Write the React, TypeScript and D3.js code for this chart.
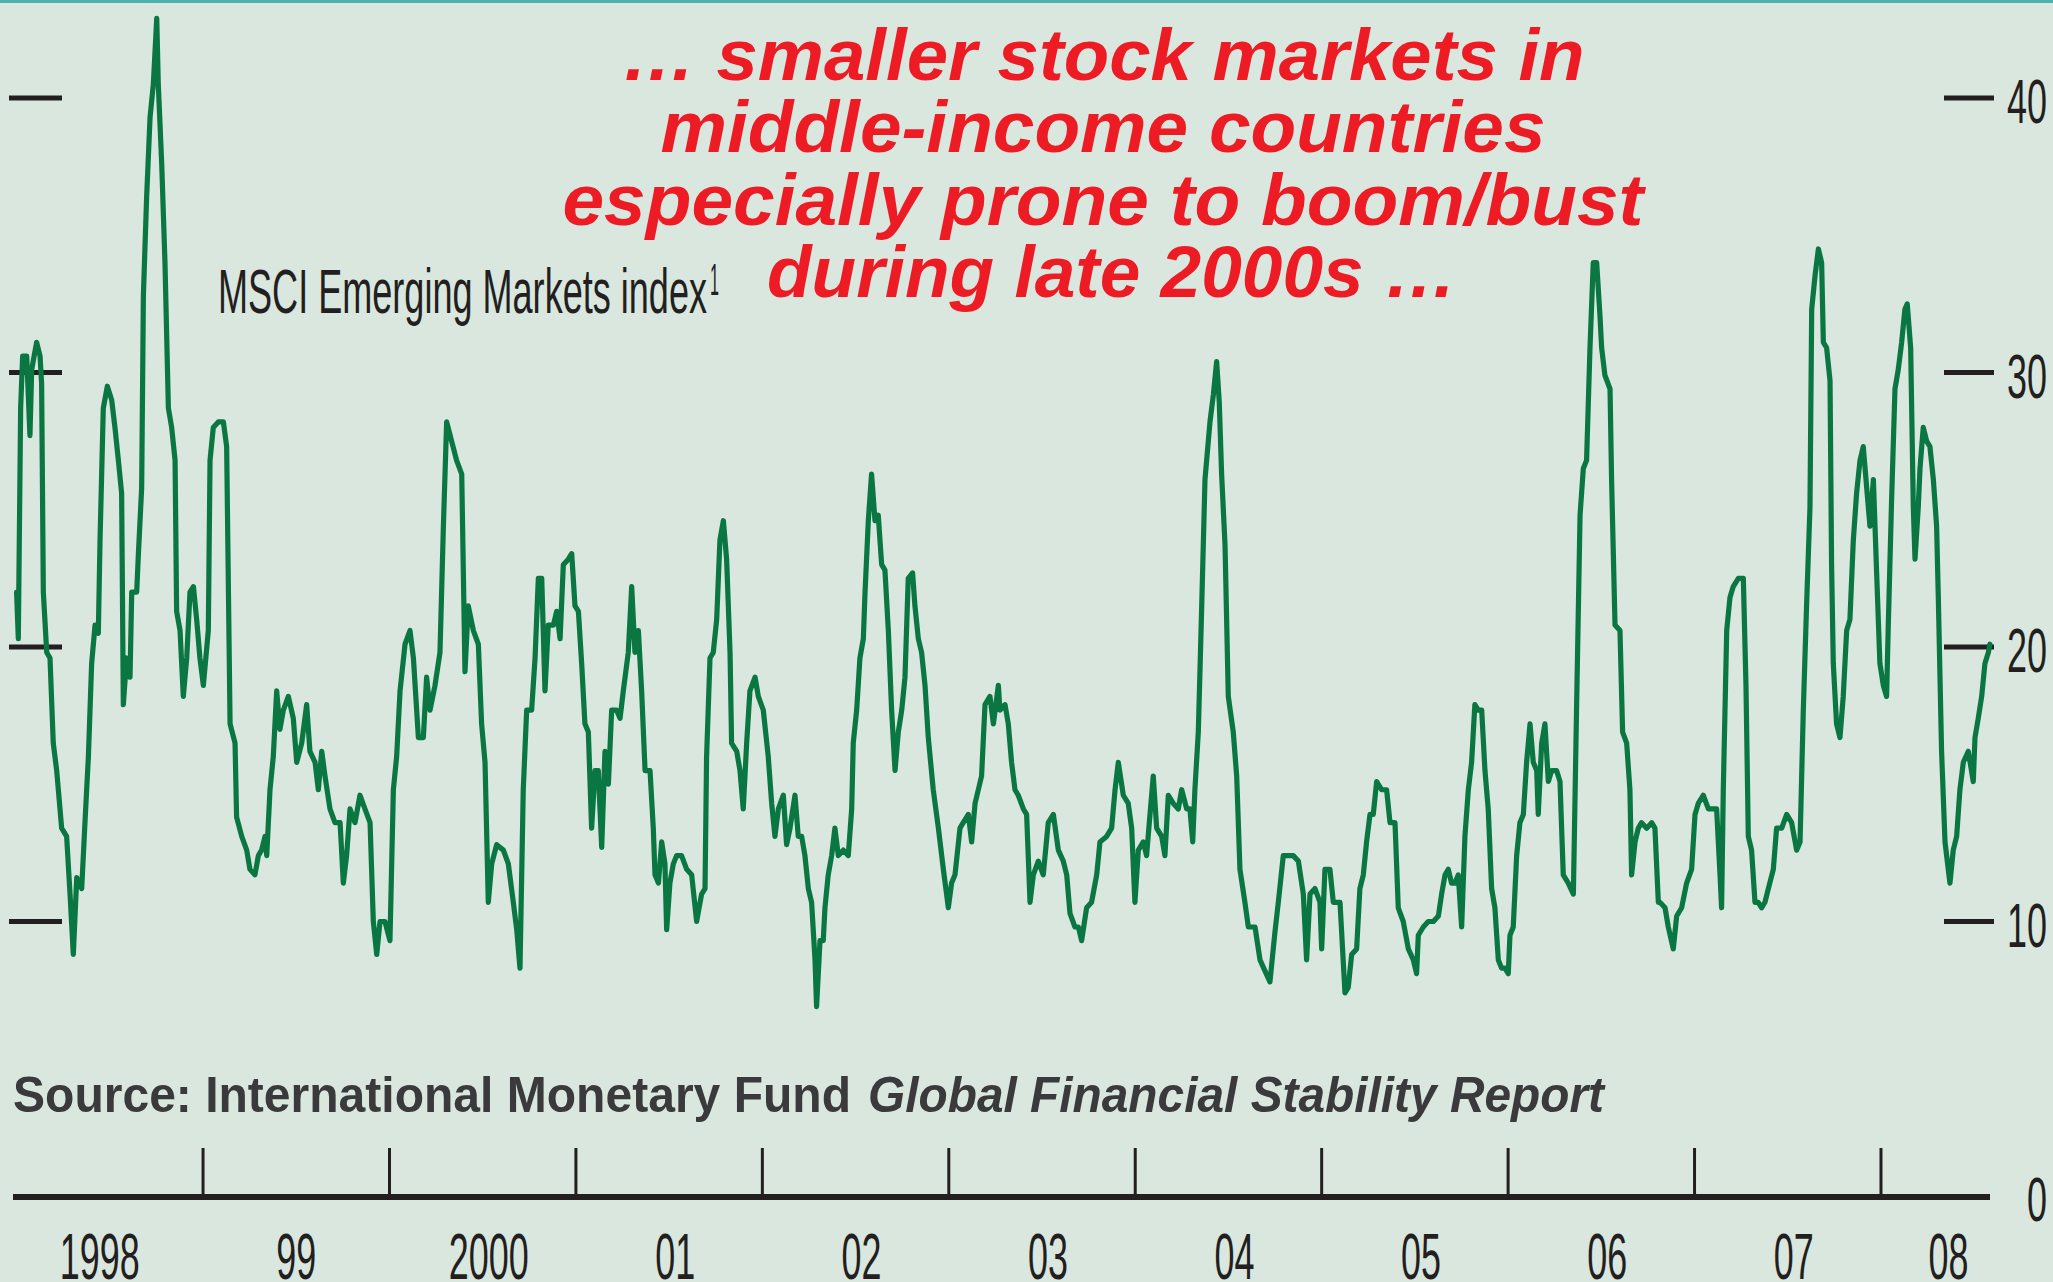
import React from "react";
import * as d3 from "d3";

const W = 2053;
const H = 1282;

// [months since Jan 1998, value]
const seg1998 = [
  [0.0, 22.0], [0.11, 20.3], [0.26, 28.7], [0.39, 30.6], [0.65, 30.6], [0.86, 27.7], [0.97, 30.1], [1.29, 31.1], [1.51, 30.6], [1.61, 29.6], [1.72, 22.0], [1.94, 19.8], [2.15, 19.6], [2.36, 16.5], [2.58, 15.5], [2.9, 13.4], [3.22, 13.1], [3.44, 11.0], [3.65, 8.8], [3.87, 11.6], [4.19, 11.2], [4.4, 13.6], [4.62, 16.0], [4.83, 19.4], [5.05, 20.8], [5.26, 20.5], [5.37, 23.9], [5.58, 28.7], [5.84, 29.5], [6.12, 29.0], [6.33, 28.0], [6.55, 26.8], [6.76, 25.6], [6.87, 17.9], [7.08, 19.6], [7.3, 18.9], [7.41, 22.0], [7.73, 22.0], [7.84, 23.4], [8.05, 25.8], [8.16, 32.8], [8.37, 36.4], [8.59, 39.3], [8.8, 40.5], [9.02, 42.9], [9.12, 40.5], [9.34, 37.6], [9.55, 34.0], [9.77, 28.7], [9.98, 28.0], [10.2, 26.8], [10.3, 21.3], [10.52, 20.6], [10.73, 18.2], [10.95, 19.6], [11.16, 22.0], [11.38, 22.2], [11.59, 21.0], [11.8, 19.6],
];
const seg1999 = [
  [12.02, 18.6], [12.34, 20.6], [12.45, 26.8], [12.66, 28.0], [12.98, 28.2], [13.31, 28.2], [13.52, 27.3], [13.74, 17.2], [14.06, 16.5], [14.16, 13.8], [14.49, 13.1], [14.81, 12.6], [15.02, 11.9], [15.34, 11.7], [15.56, 12.4], [15.77, 12.6], [15.99, 13.1], [16.1, 12.4], [16.31, 14.8], [16.52, 16.0], [16.74, 18.4], [16.95, 17.0], [17.17, 17.7], [17.49, 18.2], [17.81, 17.4], [18.03, 15.8], [18.35, 16.5], [18.67, 17.9], [18.88, 16.2], [19.21, 15.8], [19.42, 14.8], [19.64, 16.2], [19.85, 15.3], [20.17, 14.1], [20.49, 13.6], [20.82, 13.6], [21.03, 11.4], [21.24, 12.4], [21.46, 14.1], [21.78, 13.6], [22.1, 14.6], [22.42, 14.1], [22.75, 13.6], [22.96, 10.0], [23.18, 8.8], [23.39, 10.0], [23.71, 10.0],
];
const seg2000 = [
  [24.03, 9.3], [24.25, 14.8], [24.46, 16.0], [24.68, 18.4], [25.0, 20.1], [25.32, 20.6], [25.54, 19.6], [25.86, 16.7], [26.18, 16.7], [26.39, 18.9], [26.61, 17.7], [26.93, 18.6], [27.25, 19.8], [27.47, 24.4], [27.68, 28.2], [28.0, 27.5], [28.32, 26.8], [28.65, 26.3], [28.86, 19.1], [29.07, 21.5], [29.4, 20.6], [29.72, 20.1], [29.93, 17.2], [30.15, 15.8], [30.36, 10.7], [30.58, 12.1], [30.9, 12.8], [31.33, 12.6], [31.65, 12.1], [31.97, 10.7], [32.19, 9.7], [32.4, 8.3], [32.61, 14.8], [32.83, 17.7], [33.15, 17.7], [33.37, 19.6], [33.58, 22.5], [33.8, 22.5], [34.01, 18.4], [34.22, 20.8], [34.55, 20.8], [34.76, 21.3], [34.98, 20.3], [35.19, 23.0], [35.51, 23.2], [35.73, 23.4], [35.94, 21.5],
];
const seg2001 = [
  [36.16, 21.3], [36.37, 19.4], [36.58, 17.2], [36.8, 16.9], [37.01, 13.4], [37.23, 15.5], [37.44, 15.5], [37.66, 12.7], [37.87, 16.2], [38.09, 15.0], [38.3, 17.7], [38.62, 17.7], [38.84, 17.4], [39.05, 18.4], [39.37, 19.8], [39.59, 22.2], [39.8, 19.8], [40.02, 20.6], [40.23, 18.4], [40.45, 15.5], [40.77, 15.5], [40.98, 13.4], [41.09, 11.7], [41.31, 11.4], [41.52, 12.9], [41.73, 12.1], [41.84, 9.7], [42.05, 11.4], [42.27, 12.1], [42.48, 12.4], [42.8, 12.4], [43.13, 11.9], [43.45, 11.7], [43.77, 10.0], [44.09, 11.0], [44.31, 11.2], [44.41, 16.0], [44.63, 19.6], [44.84, 19.8], [45.06, 21.0], [45.27, 23.9], [45.49, 24.6], [45.7, 23.2], [45.92, 19.8], [46.02, 16.5], [46.35, 16.2], [46.56, 15.5], [46.77, 14.1], [46.99, 16.5], [47.2, 18.4], [47.53, 18.9], [47.74, 18.2],
];
const seg2002 = [
  [48.06, 17.7], [48.38, 16.0], [48.6, 14.3], [48.81, 13.1], [49.03, 14.1], [49.35, 14.6], [49.56, 12.8], [49.78, 13.4], [50.1, 14.6], [50.31, 13.1], [50.53, 13.1], [50.74, 12.4], [50.96, 11.2], [51.17, 10.7], [51.39, 8.6], [51.49, 6.9], [51.71, 9.3], [51.92, 9.3], [52.03, 10.5], [52.24, 11.7], [52.46, 12.4], [52.67, 13.4], [52.89, 12.4], [53.21, 12.6], [53.53, 12.4], [53.75, 14.1], [53.85, 16.5], [54.07, 17.7], [54.28, 19.6], [54.5, 20.3], [54.61, 22.0], [54.82, 24.6], [55.03, 26.3], [55.25, 24.6], [55.46, 24.8], [55.68, 23.0], [55.89, 22.8], [56.11, 20.6], [56.32, 17.7], [56.54, 15.5], [56.75, 16.9], [56.97, 17.7], [57.18, 18.9], [57.39, 22.5], [57.67, 22.7], [57.82, 21.5], [58.04, 20.3], [58.25, 19.8], [58.47, 18.6], [58.68, 16.7], [59.0, 14.8], [59.33, 13.4], [59.65, 11.9],
];
const seg2003 = [
  [59.97, 10.5], [60.18, 11.4], [60.4, 11.7], [60.72, 13.4], [60.93, 13.6], [61.26, 13.9], [61.47, 12.9], [61.69, 14.3], [61.9, 14.8], [62.11, 15.3], [62.33, 17.9], [62.65, 18.2], [62.87, 17.2], [63.19, 18.6], [63.29, 17.7], [63.62, 17.9], [63.83, 17.2], [64.04, 15.8], [64.26, 14.8], [64.47, 14.6], [64.8, 14.1], [65.01, 13.9], [65.23, 10.7], [65.44, 11.7], [65.76, 12.2], [66.08, 11.7], [66.4, 13.6], [66.73, 13.9], [67.05, 12.6], [67.37, 12.2], [67.59, 11.7], [67.8, 10.3], [68.12, 9.8], [68.34, 9.8], [68.55, 9.3], [68.87, 10.5], [69.19, 10.7], [69.52, 11.7], [69.73, 12.9], [70.16, 13.1], [70.48, 13.4], [70.7, 14.8], [70.91, 15.8], [71.23, 14.6], [71.55, 14.3], [71.77, 13.4], [71.98, 10.7],
];
const seg2004 = [
  [72.2, 12.6], [72.52, 12.9], [72.73, 12.4], [72.95, 13.9], [73.16, 15.3], [73.38, 13.4], [73.7, 13.1], [73.91, 12.4], [74.13, 14.6], [74.45, 14.3], [74.77, 14.1], [74.99, 14.8], [75.31, 14.1], [75.52, 14.1], [75.7, 12.9], [75.84, 14.8], [76.06, 16.9], [76.27, 21.3], [76.49, 26.1], [76.81, 28.2], [77.03, 29.2], [77.24, 30.4], [77.41, 28.9], [77.56, 26.3], [77.78, 23.7], [77.99, 18.2], [78.31, 16.9], [78.53, 15.3], [78.74, 11.9], [79.06, 10.7], [79.28, 9.8], [79.71, 9.8], [80.03, 8.6], [80.35, 8.2], [80.67, 7.8], [80.99, 9.6], [81.21, 10.7], [81.53, 12.4], [81.85, 12.4], [82.17, 12.4], [82.5, 12.2], [82.82, 11.0], [83.03, 8.6], [83.25, 11.0], [83.57, 11.2], [83.89, 10.7], [84.0, 9.0], [84.21, 11.9],
];
const seg2005 = [
  [84.53, 11.9], [84.75, 10.7], [85.18, 10.7], [85.5, 7.4], [85.71, 7.6], [85.93, 8.8], [86.25, 9.0], [86.46, 11.2], [86.68, 11.7], [86.89, 12.9], [87.11, 13.9], [87.32, 13.9], [87.54, 15.1], [87.86, 14.8], [88.18, 14.8], [88.4, 13.6], [88.72, 13.6], [88.93, 10.5], [89.25, 10.0], [89.58, 9.0], [89.9, 8.6], [90.11, 8.1], [90.22, 9.5], [90.54, 9.8], [90.86, 10.0], [91.19, 10.0], [91.51, 10.2], [91.72, 11.0], [91.94, 11.7], [92.15, 11.9], [92.36, 11.4], [92.58, 11.4], [92.79, 11.7], [93.01, 9.8], [93.22, 13.1], [93.44, 14.8], [93.65, 15.8], [93.86, 17.9], [94.08, 17.7], [94.3, 17.7], [94.51, 15.5], [94.72, 14.1], [94.94, 11.2], [95.15, 10.5], [95.37, 8.6], [95.58, 8.3], [95.8, 8.3],
];
const seg2006 = [
  [96.01, 8.1], [96.12, 9.5], [96.33, 9.8], [96.55, 12.4], [96.76, 13.6], [96.98, 13.9], [97.19, 15.8], [97.41, 17.2], [97.62, 15.8], [97.84, 15.5], [97.94, 13.9], [98.16, 16.5], [98.37, 17.2], [98.59, 15.1], [98.8, 15.5], [99.12, 15.5], [99.34, 15.1], [99.55, 11.7], [99.87, 11.4], [100.2, 11.0], [100.41, 17.9], [100.63, 24.8], [100.84, 26.5], [101.05, 26.8], [101.27, 30.9], [101.48, 34.0], [101.7, 34.0], [101.91, 32.1], [102.02, 30.9], [102.23, 29.9], [102.56, 29.4], [102.66, 26.1], [102.88, 20.8], [103.2, 20.6], [103.37, 16.9], [103.63, 16.5], [103.84, 14.8], [103.95, 11.7], [104.17, 12.9], [104.38, 13.4], [104.59, 13.6], [104.92, 13.4], [105.24, 13.6], [105.45, 13.4], [105.67, 10.7], [105.77, 10.7], [106.1, 10.5], [106.31, 9.8], [106.63, 9.0], [106.85, 10.2], [107.17, 10.5], [107.49, 11.4], [107.81, 11.9],
];
const seg2007 = [
  [108.03, 13.9], [108.24, 14.3], [108.56, 14.6], [108.89, 14.1], [109.21, 14.1], [109.42, 14.1], [109.64, 11.7], [109.74, 10.5], [109.85, 14.8], [110.07, 20.6], [110.28, 21.8], [110.49, 22.2], [110.82, 22.5], [111.14, 22.5], [111.31, 18.6], [111.46, 13.1], [111.67, 12.6], [111.89, 10.7], [112.1, 10.7], [112.32, 10.5], [112.53, 10.7], [112.75, 11.2], [113.07, 11.9], [113.28, 13.4], [113.61, 13.4], [113.93, 13.9], [114.25, 13.6], [114.57, 12.6], [114.79, 12.9], [115.0, 17.7], [115.21, 21.5], [115.43, 25.1], [115.54, 32.3], [115.75, 33.5], [115.97, 34.5], [116.18, 34.0], [116.29, 31.1], [116.5, 30.9], [116.72, 29.7], [116.82, 23.0], [116.93, 19.4], [117.14, 17.2], [117.36, 16.7], [117.57, 18.2], [117.79, 20.6], [118.0, 21.0], [118.22, 23.9], [118.43, 25.6], [118.65, 26.8], [118.86, 27.3], [119.08, 25.8], [119.29, 24.4], [119.51, 26.1], [119.72, 22.7], [119.93, 19.4],
];
const seg2008 = [
  [120.15, 18.6], [120.36, 18.2], [120.47, 20.8], [120.68, 25.3], [120.9, 29.4], [121.11, 30.1], [121.33, 31.1], [121.54, 32.3], [121.69, 32.5], [121.91, 30.9], [122.08, 25.1], [122.19, 23.2], [122.4, 25.1], [122.51, 26.5], [122.72, 28.0], [122.94, 27.5], [123.15, 27.3], [123.37, 26.1], [123.58, 24.4], [123.69, 21.8], [123.9, 16.2], [124.12, 12.9], [124.33, 11.9], [124.44, 11.4], [124.65, 12.6], [124.87, 13.1], [125.08, 14.8], [125.3, 15.8], [125.62, 16.2], [125.94, 15.1], [126.05, 16.7], [126.26, 17.4], [126.48, 18.2], [126.69, 19.4], [126.91, 19.8], [127.01, 20.1],
];

const gridTicks = [10, 20, 30, 40];
const rightTickLabels = [0, 10, 20, 30, 40];
const yearTicks = [1999, 2000, 2001, 2002, 2003, 2004, 2005, 2006, 2007, 2008];
const yearLabels = ["1998", "99", "2000", "01", "02", "03", "04", "05", "06", "07", "08"];
const titleLines = [
  "\u2026 smaller stock markets in",
  "middle-income countries",
  "especially prone to boom/bust",
  "during late 2000s \u2026",
];
const titleWidths = [963, 885, 1081, 690];
const seriesLabel = "MSCI Emerging Markets index";
const seriesNote = "1";
const sourceBold = "Source: International Monetary Fund";
const sourceItalic = "Global Financial Stability Report";

const START_YEAR = 1998;
const END_YEAR = 1998 + 127.01 / 12;

export default function App() {
  const x = d3.scaleLinear().domain([START_YEAR, END_YEAR]).range([16.6, 1989.9]);
  const y = d3.scaleLinear().domain([0, 40]).range([1196, 98]);

  const all = [
    ...seg1998, ...seg1999, ...seg2000, ...seg2001, ...seg2002, ...seg2003,
    ...seg2004, ...seg2005, ...seg2006, ...seg2007, ...seg2008,
  ];
  const line = d3
    .line<number[]>()
    .x((d) => x(START_YEAR + d[0] / 12))
    .y((d) => y(d[1]));

  const axisY = 1197;
  const condensed = "'Liberation Sans Narrow', 'Liberation Sans', Arial, sans-serif";
  const sans = "'Liberation Sans', Arial, Helvetica, sans-serif";

  const labelCenters = yearLabels.map((lab, i) => {
    const y0 = START_YEAR + i;
    if (i === yearLabels.length - 1) {
      return x(y0) + 0.62 * (x(END_YEAR) - x(y0));
    }
    const mid = x(y0 + 0.5);
    if (i === 0) return mid - 10;
    if (i === 1) return mid;
    return mid + 6;
  });

  return (
    <svg
      width={W}
      height={H}
      viewBox={`0 0 ${W} ${H}`}
      style={{ position: "absolute", left: 0, top: 0, display: "block" }}
    >
      <rect x={0} y={0} width={W} height={H} fill="#D9E7DF" />
      <rect x={0} y={0} width={W} height={3} fill="#4FB1AD" />

      {/* left ticks */}
      {gridTicks.map((v) => (
        <line key={"l" + v} x1={9} x2={62} y1={y(v)} y2={y(v)} stroke="#231F20" strokeWidth={5} />
      ))}
      {/* right ticks */}
      {gridTicks.map((v) => (
        <line key={"r" + v} x1={1944} x2={1994} y1={y(v)} y2={y(v)} stroke="#231F20" strokeWidth={5} />
      ))}
      {rightTickLabels.map((v) => {
        const s = String(v);
        return (
          <text
            key={"rl" + v}
            x={2047}
            y={y(v) + 25}
            textAnchor="end"
            fontFamily={condensed}
            fontSize={63}
            fill="#231F20"
            textLength={s.length * 20}
            lengthAdjust="spacingAndGlyphs"
          >
            {s}
          </text>
        );
      })}

      {/* bottom axis */}
      <line x1={13} x2={1990} y1={axisY} y2={axisY} stroke="#231F20" strokeWidth={6} />
      {yearTicks.map((yr) => (
        <line key={"t" + yr} x1={x(yr)} x2={x(yr)} y1={1148} y2={axisY} stroke="#231F20" strokeWidth={3} />
      ))}
      {yearLabels.map((lab, i) => (
        <text
          key={"yl" + lab}
          x={labelCenters[i]}
          y={1279}
          textAnchor="middle"
          fontFamily={condensed}
          fontSize={64}
          fill="#231F20"
          textLength={lab.length * 20}
          lengthAdjust="spacingAndGlyphs"
        >
          {lab}
        </text>
      ))}

      {/* source */}
      <text
        x={13}
        y={1112}
        fontFamily={sans}
        fontWeight="bold"
        fontSize={50}
        fill="#3A3A3C"
        textLength={838}
        lengthAdjust="spacingAndGlyphs"
      >
        {sourceBold}
      </text>
      <text
        x={868}
        y={1112}
        fontFamily={sans}
        fontWeight="bold"
        fontStyle="italic"
        fontSize={50}
        fill="#3A3A3C"
        textLength={736}
        lengthAdjust="spacingAndGlyphs"
      >
        {sourceItalic}
      </text>

      {/* series label */}
      <text
        x={218}
        y={313}
        fontFamily={condensed}
        fontSize={63}
        fill="#231F20"
        textLength={489}
        lengthAdjust="spacingAndGlyphs"
      >
        {seriesLabel}
      </text>
      <text
        x={710}
        y={295}
        fontFamily={condensed}
        fontSize={44}
        fill="#231F20"
        textLength={9}
        lengthAdjust="spacingAndGlyphs"
      >
        {seriesNote}
      </text>

      {/* title */}
      {titleLines.map((t, i) => (
        <text
          key={"tt" + i}
          x={i === 3 ? 1112 : 1103}
          y={80 + i * 72.4}
          textAnchor="middle"
          fontFamily={sans}
          fontWeight="bold"
          fontStyle="italic"
          fontSize={73}
          fill="#ED1C24"
          textLength={titleWidths[i]}
          lengthAdjust="spacingAndGlyphs"
        >
          {t}
        </text>
      ))}

      {/* data line */}
      <path
        d={line(all as number[][]) || ""}
        fill="none"
        stroke="#0A7642"
        strokeWidth={5.2}
        strokeLinejoin="round"
        strokeLinecap="round"
      />
    </svg>
  );
}
